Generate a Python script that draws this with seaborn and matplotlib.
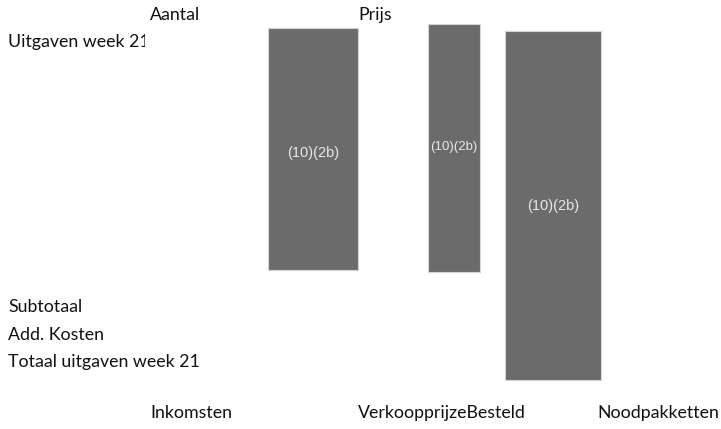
import matplotlib
matplotlib.use('Agg')
import matplotlib.pyplot as plt
import seaborn as sns
import numpy as np

# redacted boxes (pixel-like units: left/right edges, top/bottom rows)
box_left = [268, 428, 505]
box_right = [358, 480, 601]
box_top = [28, 24, 31]
box_bottom = [270, 272, 380]
box_label = ['(10)(2b)', '(10)(2b)', '(10)(2b)']
label_row = [153, 147, 206]

col_headers = ['Aantal', 'Prijs']
row_labels = ['Uitgaven week 21', 'Subtotaal', 'Add. Kosten', 'Totaal uitgaven week 21']
bottom_labels = ['Inkomsten', 'VerkoopprijzeBesteld', 'Noodpakketten']

sns.set_theme(style='white')
plt.rcParams['font.family'] = ['Lato', 'DejaVu Sans']

fig = plt.figure(figsize=(7.21, 4.29), dpi=100)
ax = fig.add_axes([0, 0, 1, 1])
ax.set_xlim(0, 721)
ax.set_ylim(429, 0)
ax.axis('off')

left = np.array(box_left)
right = np.array(box_right)
top = np.array(box_top)
bot = np.array(box_bottom)
ax.bar((left + right) / 2, bot - top, bottom=top, width=right - left,
       color='#6b6b6b', edgecolor='#d4d4d4', linewidth=0.8)
label_sizes = [10.5, 9.5, 10.5]
for l, r, y, t, s in zip(left, right, label_row, box_label, label_sizes):
    ax.text((l + r) / 2, y, t, ha='center', va='center', color='#e8e8e8',
            fontsize=s, family=['Liberation Sans', 'DejaVu Sans'])

fs = 12.8
ax.text(150, 15, col_headers[0], ha='left', va='center', fontsize=fs, color='#111111')
ax.text(358, 15, col_headers[1], ha='left', va='center', fontsize=fs, color='#111111')

# first row label is cut off by the cell border in the original
t = ax.text(8, 42, row_labels[0], ha='left', va='center', fontsize=fs,
            color='#111111', clip_on=True)
clip = plt.Rectangle((0, 0), 145, 429, transform=ax.transData)
t.set_clip_path(clip)
for y, lab in zip([307, 335, 362], row_labels[1:]):
    ax.text(8, y, lab, ha='left', va='center', fontsize=fs, color='#111111')

for x, lab in zip([150, 358, 597], bottom_labels):
    ax.text(x, 413, lab, ha='left', va='center', fontsize=fs, color='#111111')

fig.savefig('out.png', dpi=100)
